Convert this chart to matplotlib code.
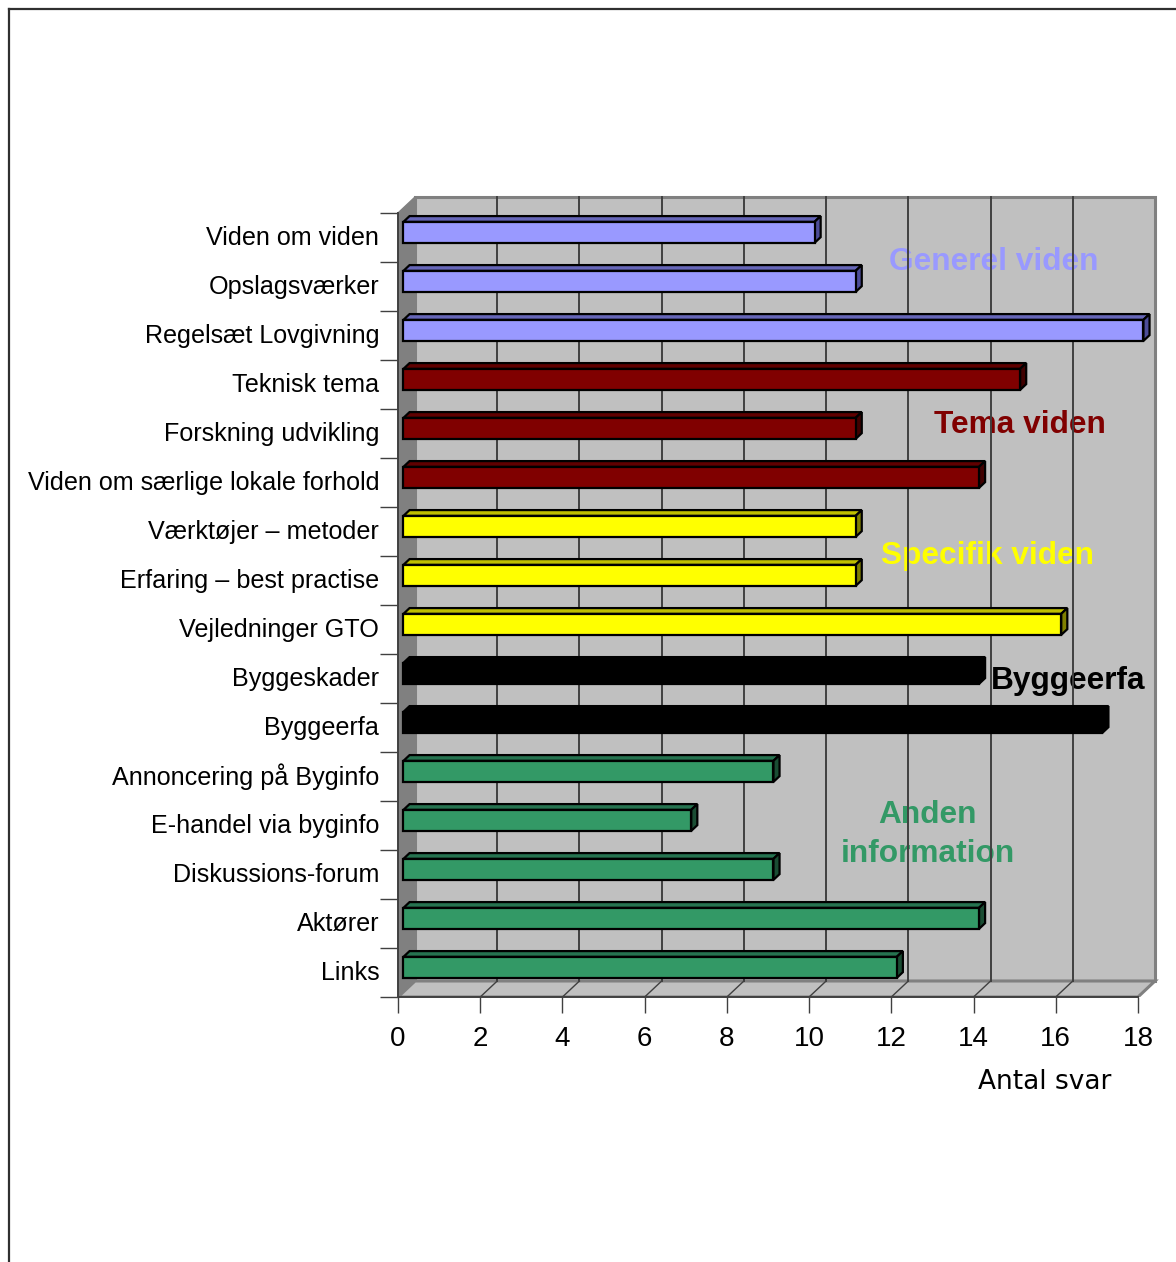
import matplotlib.pyplot as plt
from matplotlib.patches import Polygon, Rectangle
from matplotlib.lines import Line2D
import matplotlib.transforms as mtransforms

# data
labels = ['Viden om viden', 'Opslagsværker', 'Regelsæt Lovgivning',
          'Teknisk tema', 'Forskning udvikling', 'Viden om særlige lokale forhold',
          'Værktøjer – metoder', 'Erfaring – best practise', 'Vejledninger GTO',
          'Byggeskader', 'Byggeerfa',
          'Annoncering på Byginfo', 'E-handel via byginfo', 'Diskussions-forum',
          'Aktører', 'Links']
values = [10, 11, 18, 15, 11, 14, 11, 11, 16, 14, 17, 9, 7, 9, 14, 12]
groups = ['gen'] * 3 + ['tema'] * 3 + ['spec'] * 3 + ['bygg'] * 2 + ['anden'] * 5
xticks = [0, 2, 4, 6, 8, 10, 12, 14, 16, 18]

# front, top, side colours per group
farver = {
    'gen': ('#9999FF', '#6666B8', '#4D4D99'),
    'tema': ('#800000', '#600000', '#400000'),
    'spec': ('#FFFF00', '#BFBF00', '#808000'),
    'bygg': ('#000000', '#000000', '#000000'),
    'anden': ('#339966', '#267350', '#1A4D33'),
}
gruppe_tekst = [('Generel viden', '#9999FF', 14.5, 0.99),
                ('Tema viden', '#800000', 15.13, 4.33),
                ('Specifik viden', '#FFFF00', 14.35, 7.0),
                ('Byggeerfa', '#000000', 16.3, 9.55),
                ('Anden\ninformation', '#339966', 12.89, 12.69)]

W, H = 1176, 1262
px_x = 41.11   # pixels per unit
px_y = 49.0    # pixels per row
n = len(labels)
xmax = 18
dX = 17 / px_x      # depth of the 3d box
dY = -16 / px_y

fig = plt.figure(figsize=(W / 100, H / 100), dpi=100)
ax = fig.add_axes([398 / W, (H - 997) / H, (1165 - 398) / W, (997 - 185) / H])
ax.set_xlim(0, (1165 - 398) / px_x)
ax.set_ylim(n, (185 - 213) / px_y)
ax.patch.set_visible(False)

# walls
ax.add_patch(Rectangle((dX, dY), xmax, n, facecolor='#C0C0C0', edgecolor='#808080', lw=2.2, zorder=0))
ax.add_patch(Polygon([(0, 0), (dX, dY), (dX, n + dY), (0, n)], closed=True,
                     facecolor='#808080', edgecolor='#808080', lw=1, zorder=0))
ax.add_patch(Polygon([(0, n), (dX, n + dY), (xmax + dX, n + dY), (xmax, n)], closed=True,
                     facecolor='#C0C0C0', edgecolor='#808080', lw=2.2, zorder=0))
for k in xticks[1:-1]:
    ax.add_line(Line2D([k + dX, k + dX], [dY, n + dY], color='#404040', lw=1.4, zorder=2))
    ax.add_line(Line2D([k, k + dX], [n, n + dY], color='#404040', lw=1.0, zorder=2))

# group texts
for txt, c, tx, ty in gruppe_tekst:
    ax.text(tx, ty, txt, color=c, fontsize=22.8, fontweight='bold', family='Liberation Sans',
            ha='center', va='center', zorder=1, linespacing=1.4)

# bars with 3d faces
t1 = 0.32
dyb = 0.36
h = 0.43
ox, oy = t1 * dX, t1 * dY
bx, by = dyb * dX, dyb * dY
pos = [i + 0.5 + oy for i in range(n)]
front = [farver[g][0] for g in groups]
ax.barh(pos, values, height=h, left=ox, color=front, edgecolor='black', lw=1.6, zorder=5)
for i, v in enumerate(values):
    g = groups[i]
    y_top = pos[i] - h / 2
    y_bot = pos[i] + h / 2
    x1 = ox + v
    top = [(ox, y_top), (ox + bx, y_top + by), (x1 + bx, y_top + by), (x1, y_top)]
    side = [(x1, y_top), (x1 + bx, y_top + by), (x1 + bx, y_bot + by), (x1, y_bot)]
    ax.add_patch(Polygon(top, closed=True, facecolor=farver[g][1], edgecolor='black', lw=1.6, zorder=4))
    ax.add_patch(Polygon(side, closed=True, facecolor=farver[g][2], edgecolor='black', lw=1.6, zorder=4))

# axes
for s in ['top', 'right']:
    ax.spines[s].set_visible(False)
ax.spines['left'].set_bounds(0, n)
ax.spines['bottom'].set_bounds(0, xmax)
ax.spines['left'].set_color('#404040')
ax.spines['bottom'].set_color('#404040')
ax.spines['left'].set_linewidth(1.4)
ax.spines['bottom'].set_linewidth(1.4)
ax.spines['left'].set_zorder(6)

ax.set_yticks([i + 0.5 for i in range(n)])
ax.set_yticklabels(labels, fontsize=18.1, family='Liberation Sans')
ax.set_yticks(range(n + 1), minor=True)
ax.tick_params(axis='y', which='major', length=0, pad=13.5)
ax.tick_params(axis='y', which='minor', length=13, width=1.0, color='#404040')
skift = mtransforms.ScaledTranslation(0, 2 / 100, fig.dpi_scale_trans)
for lab in ax.get_yticklabels():
    lab.set_transform(lab.get_transform() + skift)

ax.set_xticks(xticks)
ax.set_xticklabels([str(k) for k in xticks], fontsize=20, family='Liberation Sans')
ax.tick_params(axis='x', length=11.5, width=1.0, color='#404040', pad=9.5)

ax.set_xlabel('Antal svar', fontsize=19, family='DejaVu Sans')
ax.xaxis.set_label_coords((1045 - 398) / (1165 - 398), -72 / (997 - 185))

# frame around the chart area
fig.add_artist(Line2D([9 / W, 9 / W], [0, (H - 9) / H], color='#303030', lw=1.6))
fig.add_artist(Line2D([9 / W, 1], [(H - 9) / H, (H - 9) / H], color='#303030', lw=1.6))

plt.savefig('out.png', dpi=100)
